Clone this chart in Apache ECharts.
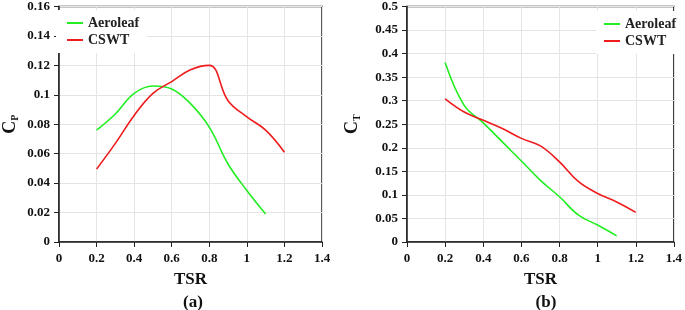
<!DOCTYPE html>
<html>
<head>
<meta charset="utf-8">
<script src="https://cdn.jsdelivr.net/npm/echarts@6/dist/echarts.min.js"></script>
<style>
  html, body { margin: 0; padding: 0; background: #fff; }
  #chart { width: 685px; height: 310px; }
</style>
</head>
<body>
<div id="chart"></div>
<script>
// TSR values shared by both panels
const tsr = [0.2, 0.3, 0.4, 0.5, 0.6, 0.7, 0.8, 0.9, 1.0, 1.1, 1.2];

// (a) power coefficient
const cpAeroleaf = [0.076, 0.087, 0.101, 0.106, 0.104, 0.094, 0.078, 0.053, 0.035, 0.019];
const cpCswt = [0.0495, 0.067, 0.086, 0.101, 0.109, 0.117, 0.120, 0.096, 0.085, 0.076, 0.061];

// (b) thrust coefficient
const ctAeroleaf = [0.381, 0.290, 0.253, 0.2125, 0.172, 0.131, 0.096, 0.057, 0.036, 0.013];
const ctCswt = [0.304, 0.276, 0.2585, 0.241, 0.220, 0.204, 0.170, 0.128, 0.103, 0.085, 0.063];

const font = '"Liberation Serif", "Times New Roman", serif';
const green = '#22ee22';
const red = '#ee1c1c';

const pairs = (ys) => ys.map((y, i) => [tsr[i], y]);

const chart = echarts.init(document.getElementById('chart'));

const xAxisBase = (gridIndex) => ({
  gridIndex,
  type: 'value',
  min: 0,
  max: 1.4,
  interval: 0.2,
  name: 'TSR',
  nameLocation: 'middle',
  nameGap: 29,
  nameTextStyle: { fontFamily: font, fontWeight: 'bold', fontSize: 17, color: '#111' },
  axisLine: { show: true, onZero: false, lineStyle: { color: '#222', width: 1.5 } },
  axisTick: { show: true, length: 5, lineStyle: { color: '#222' } },
  axisLabel: {
    fontFamily: font, fontWeight: 'bold', fontSize: 13, color: '#111', margin: 10,
    formatter: (v) => String(parseFloat(v.toFixed(1)))
  },
  splitLine: { show: true, lineStyle: { color: '#e4e4e4', width: 1 } }
});

const yAxisBase = (gridIndex, max, interval, sub, gap) => ({
  gridIndex,
  type: 'value',
  min: 0,
  max,
  interval,
  name: '{a|C}{b|' + sub + '}',
  nameLocation: 'middle',
  nameGap: gap,
  nameRotate: 90,
  nameTextStyle: {
    rich: {
      a: { fontFamily: font, fontWeight: 'bold', fontSize: 18, color: '#111', lineHeight: 20 },
      b: { fontFamily: font, fontWeight: 'bold', fontSize: 10, color: '#111', verticalAlign: 'bottom', lineHeight: 14, padding: [9, 0, 0, 0] }
    }
  },
  axisLine: { show: true, lineStyle: { color: '#222', width: 1.5 } },
  axisTick: { show: true, length: 5, lineStyle: { color: '#222' } },
  axisLabel: {
    fontFamily: font, fontWeight: 'bold', fontSize: 13, color: '#111', margin: 9,
    formatter: (v) => String(parseFloat(v.toFixed(3)))
  },
  splitLine: { show: true, lineStyle: { color: '#e4e4e4', width: 1 } }
});

const lineSeries = (name, data, color, axis) => ({
  name,
  type: 'line',
  xAxisIndex: axis,
  yAxisIndex: axis,
  data: pairs(data),
  smooth: 0.4,
  showSymbol: false,
  lineStyle: { color, width: 1.6 },
  itemStyle: { color }
});

const legendBase = (left, top, padding) => ({
  data: ['Aeroleaf', 'CSWT'],
  left, top, orient: 'vertical', itemGap: 3,
  icon: 'rect', itemWidth: 16, itemHeight: 2,
  backgroundColor: '#fff', padding,
  textStyle: { fontFamily: font, fontWeight: 'bold', fontSize: 14, color: '#222', padding: [0, 0, 0, 0] }
});

const option = {
  animation: false,
  backgroundColor: '#fff',
  grid: [
    { left: 54, top: 6, width: 268, height: 236, show: true, borderColor: '#222', borderWidth: 1.5 },
    { left: 407, top: 6, width: 268, height: 236, show: true, borderColor: '#222', borderWidth: 1.5 }
  ],
  title: [
    { text: '(a)', left: 188, top: 289, textAlign: 'center',
      textStyle: { fontFamily: font, fontWeight: 'bold', fontSize: 17, color: '#111' } },
    { text: '(b)', left: 541, top: 289, textAlign: 'center',
      textStyle: { fontFamily: font, fontWeight: 'bold', fontSize: 17, color: '#111' } }
  ],
  legend: [
    legendBase(56, 10, [6, 8, 6, 11]),
    legendBase(596, 11, [6, 4, 6, 8])
  ],
  xAxis: [xAxisBase(0), xAxisBase(1)],
  yAxis: [
    yAxisBase(0, 0.16, 0.02, 'P', 39),
    yAxisBase(1, 0.5, 0.05, 'T', 45)
  ],
  series: [
    lineSeries('Aeroleaf', cpAeroleaf, green, 0),
    lineSeries('CSWT', cpCswt, red, 0),
    lineSeries('Aeroleaf', ctAeroleaf, green, 1),
    lineSeries('CSWT', ctCswt, red, 1)
  ]
};

chart.setOption(option);
</script>
</body>
</html>
